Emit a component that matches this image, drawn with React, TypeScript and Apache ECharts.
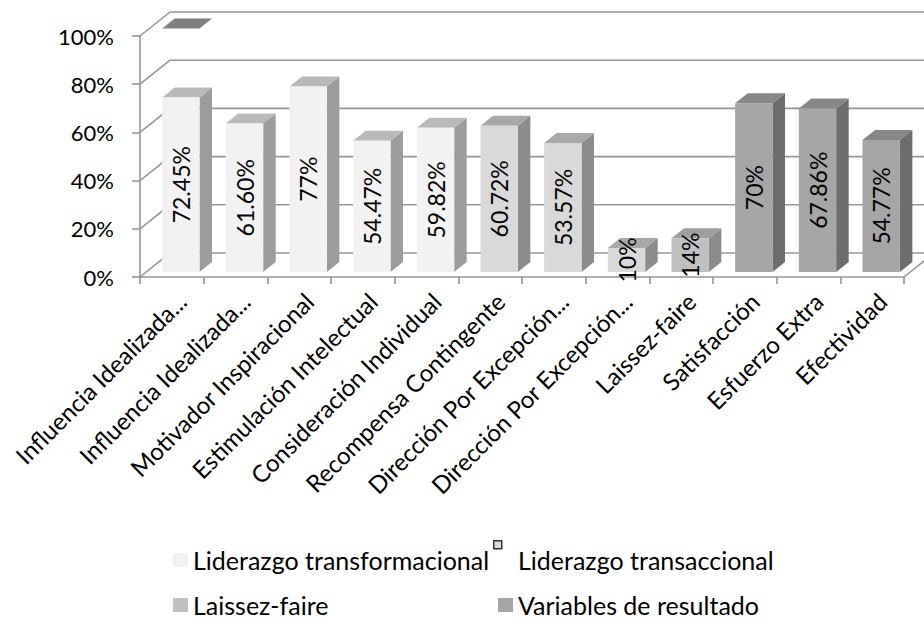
import React, { useEffect, useRef } from "react";
import * as echarts from "echarts";

// ---- data ----
const categories = [
  "Influencia Idealizada...",
  "Influencia Idealizada...",
  "Motivador Inspiracional",
  "Estimulación Intelectual",
  "Consideración Individual",
  "Recompensa Contingente",
  "Dirección Por Excepción...",
  "Dirección Por Excepción...",
  "Laissez-faire",
  "Satisfacción",
  "Esfuerzo Extra",
  "Efectividad",
];
const values = [72.45, 61.6, 77, 54.47, 59.82, 60.72, 53.57, 10, 14, 70, 67.86, 54.77];
const valueLabels = ["72.45%", "61.60%", "77%", "54.47%", "59.82%", "60.72%", "53.57%", "10%", "14%", "70%", "67.86%", "54.77%"];
const seriesNames = ["Liderazgo transformacional", "Liderazgo transaccional", "Laissez-faire", "Variables de resultado"];
const groupOf = [0, 0, 0, 0, 0, 1, 1, 1, 2, 3, 3, 3];
const yTicks = [0, 20, 40, 60, 80, 100];
// stray top face drawn above the first category in the original chart
const strayTopCategory = [0];
const strayTopValue = [101];

// ---- styles ----
const frontColors = ["#f2f2f2", "#d9d9d9", "#c0c0c0", "#a6a6a6"];
const topColors = ["#b9b9b9", "#a8a8a8", "#9e9e9e", "#878787"];
const sideColors = ["#9c9c9c", "#8c8c8c", "#8c8c8c", "#6d6d6d"];
const FONT = "Lato";
const WALL_DX = 30;
const WALL_DY = -24;
const FRONT_DX = 9;
const FRONT_DY = -5;
const DEPTH_DX = 12.5;
const DEPTH_DY = -10;
const BAR_FRAC = 0.587;
const LINE_COLOR = "#959595";

function barShapes(api: any, i: number, v: number, gi: number, withFront: boolean) {
  const base = api.coord([i, 0]);
  const top = api.coord([i, v]);
  const cw = api.size([1, 0])[0];
  const w = cw * BAR_FRAC;
  const cx = base[0] + FRONT_DX;
  const x0 = cx - w / 2;
  const x1 = cx + w / 2;
  const yb = base[1] + FRONT_DY;
  const yt = top[1] + FRONT_DY;
  const children: any[] = [];
  const topFace = {
    type: "polygon",
    shape: { points: [[x0, yt], [x1, yt], [x1 + DEPTH_DX, yt + DEPTH_DY], [x0 + DEPTH_DX, yt + DEPTH_DY]] },
    style: { fill: withFront ? topColors[gi] : "#7f7f7f" },
  };
  if (withFront) {
    children.push({
      type: "polygon",
      shape: { points: [[x1, yb], [x1, yt], [x1 + DEPTH_DX, yt + DEPTH_DY], [x1 + DEPTH_DX, yb + DEPTH_DY]] },
      style: { fill: sideColors[gi] },
    });
    children.push(topFace);
    children.push({
      type: "rect",
      shape: { x: x0, y: yt, width: w, height: yb - yt },
      style: { fill: frontColors[gi] },
    });
  } else {
    children.push(topFace);
  }
  return { children, cx, yb, yt };
}

export default function App() {
  const ref = useRef<HTMLDivElement>(null);
  useEffect(() => {
    if (!ref.current) return;
    const chart = echarts.init(ref.current, null, { renderer: "svg" });

    const barSeries = seriesNames.map((name, gi) => {
      const data: number[][] = [];
      values.forEach((v, k) => {
        if (groupOf[k] === gi) data.push([k, v, k]);
      });
      return {
        type: "custom",
        name,
        xAxisIndex: 0,
        yAxisIndex: 0,
        z: 3,
        silent: true,
        clip: false,
        itemStyle: { color: frontColors[gi] },
        data,
        renderItem: (params: any, api: any) => {
          const k = api.value(2);
          const { children, cx, yb, yt } = barShapes(api, api.value(0), api.value(1), gi, true);
          children.push({
            type: "text",
            x: cx,
            y: (yb + yt) / 2,
            rotation: Math.PI / 2,
            style: {
              text: valueLabels[k],
              fill: "#000",
              font: `23px ${FONT}`,
              align: "center",
              verticalAlign: "middle",
            },
          });
          return { type: "group", children };
        },
      };
    });

    const wallSeries = {
      type: "custom",
      name: "wall",
      xAxisIndex: 0,
      yAxisIndex: 0,
      z: 1,
      silent: true,
      clip: false,
      data: yTicks.map((t) => [0, t]),
      renderItem: (params: any, api: any) => {
        const cs = params.coordSys;
        const v = api.value(1);
        const y = api.coord([0, v])[1];
        const xl = cs.x;
        const xr = cs.x + cs.width;
        const st = { stroke: LINE_COLOR, lineWidth: 1.6, fill: null };
        const children: any[] = [
          { type: "line", shape: { x1: xl, y1: y, x2: xl + WALL_DX, y2: y + WALL_DY }, style: st },
          { type: "line", shape: { x1: xl + WALL_DX, y1: y + WALL_DY, x2: xr + WALL_DX, y2: y + WALL_DY }, style: st },
        ];
        if (v === 0) {
          children.push({ type: "line", shape: { x1: xr, y1: y, x2: xr + WALL_DX, y2: y + WALL_DY }, style: st });
        }
        return { type: "group", children };
      },
    };

    const straySeries = {
      type: "custom",
      name: "stray",
      xAxisIndex: 0,
      yAxisIndex: 0,
      z: 3,
      silent: true,
      clip: false,
      data: strayTopCategory.map((c, i) => [c, strayTopValue[i]]),
      renderItem: (params: any, api: any) => {
        const { children } = barShapes(api, api.value(0), api.value(1), 0, false);
        return { type: "group", children };
      },
    };

    const legendPos = [
      { left: 168, top: 541 },
      { left: 493, top: 541 },
      { left: 168, top: 586 },
      { left: 493, top: 586 },
    ];
    const legends = seriesNames.map((name, gi) => ({
      show: true,
      left: legendPos[gi].left,
      top: legendPos[gi].top,
      itemWidth: 15,
      itemHeight: 14,
      itemGap: 0,
      selectedMode: false,
      textStyle: { fontFamily: FONT, fontSize: 25, color: "#000", lineHeight: 28 },
      data: [
        {
          name,
          icon: "rect",
          itemStyle: gi === 1 ? { color: "rgba(0,0,0,0)", borderWidth: 0 } : { color: frontColors[gi], borderWidth: 0 },
        },
      ],
    }));

    chart.setOption({
      animation: false,
      backgroundColor: "#fff",
      textStyle: { fontFamily: FONT },
      grid: [
        { left: 140, right: 20, top: 36, bottom: 344 },
        { left: 150, right: 10, top: 36, bottom: 344 },
      ],
      xAxis: [
        {
          type: "category",
          gridIndex: 0,
          data: categories,
          boundaryGap: true,
          axisLine: { show: true, lineStyle: { color: LINE_COLOR, width: 1.6 } },
          axisTick: { show: true, length: 7, interval: 0, lineStyle: { color: LINE_COLOR, width: 1.6 } },
          axisLabel: { show: false },
          splitLine: { show: false },
        },
        {
          type: "category",
          gridIndex: 1,
          data: categories,
          boundaryGap: true,
          axisLine: { show: false },
          axisTick: { show: false },
          axisLabel: {
            show: true,
            interval: 0,
            rotate: 45,
            margin: 20,
            fontSize: 24,
            fontFamily: FONT,
            color: "#000",
          },
          splitLine: { show: false },
        },
      ],
      yAxis: [
        {
          type: "value",
          gridIndex: 0,
          min: 0,
          max: 100,
          interval: 20,
          axisLine: { show: true, lineStyle: { color: LINE_COLOR, width: 1.6 } },
          axisTick: { show: true, length: 8, lineStyle: { color: LINE_COLOR, width: 1.6 } },
          axisLabel: { formatter: "{value}%", fontSize: 22, fontFamily: FONT, color: "#000", margin: 26 },
          splitLine: { show: false },
        },
        {
          type: "value",
          gridIndex: 1,
          min: 0,
          max: 100,
          show: false,
        },
      ],
      legend: legends,
      graphic: [
        {
          type: "rect",
          left: 493,
          top: 540,
          shape: { width: 8, height: 8 },
          style: { fill: "#d9d9d9", stroke: "#333", lineWidth: 1.5 },
        },
      ],
      series: [wallSeries, ...barSeries, straySeries],
    });

    return () => chart.dispose();
  }, []);

  return (
    <div
      ref={ref}
      style={{ position: "fixed", left: 0, top: 0, width: 924, height: 621, background: "#fff" }}
    />
  );
}
